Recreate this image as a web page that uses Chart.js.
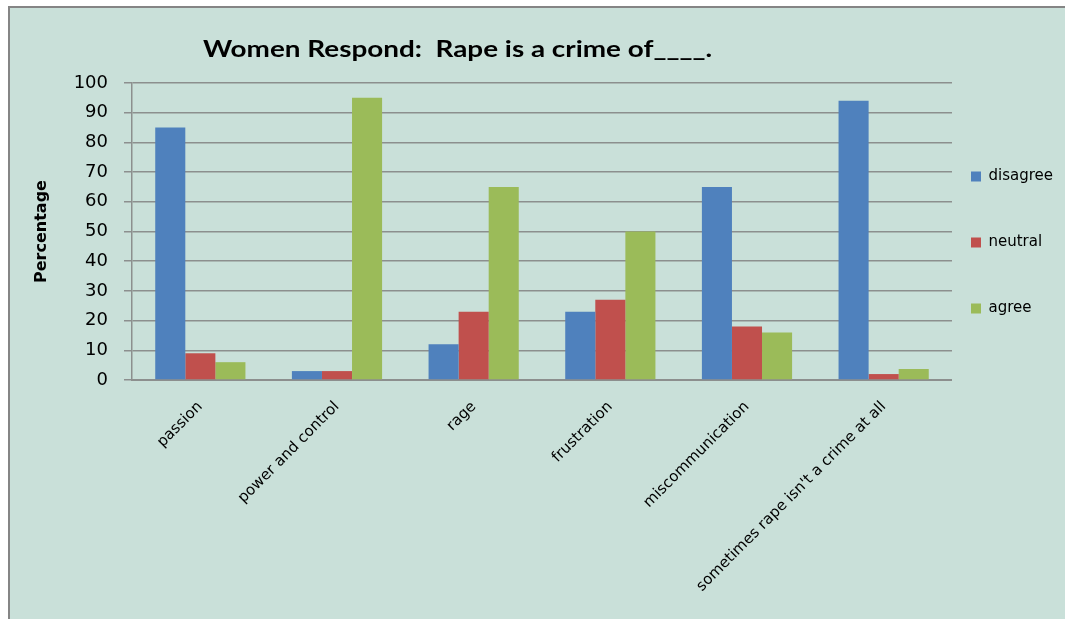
<!DOCTYPE html>
<html>
<head>
<meta charset="utf-8">
<script src="https://cdn.jsdelivr.net/npm/chart.js@4/dist/chart.umd.min.js"></script>
<style>
    body { margin: 0; background: #ffffff; }
    #frame {
        position: absolute;
        left: 8px;
        top: 6px;
        width: 1057px;
        height: 613px;
        background: #c9e0d9;
        border-left: 2px solid #858585;
        border-top: 2px solid #858585;
    }
</style>
</head>
<body>
<div id="frame"><canvas id="rape-canvas" width="1055" height="611"></canvas></div>
<script>
var chartTitle = 'Women Respond:  Rape is a crime of____.';

var categories = ['passion', 'power and control', 'rage', 'frustration', 'miscommunication', "sometimes rape isn't a crime at all"];

var disagreeData = [85, 3, 12, 23, 65, 94];

var neutralData = [9, 3, 23, 27, 18, 2];

var agreeData = [6, 95, 65, 50, 16, 3.7];

var yTicks = [0, 10, 20, 30, 40, 50, 60, 70, 80, 90, 100];

document.addEventListener('DOMContentLoaded', function() {
    var ctx = document.getElementById('rape-canvas').getContext('2d');

    // title sits left of centre in the original, so draw it by hand
    // (the Excel export is a bit stretched sideways, so stretch it too)
    var titlePlugin = {
        id: 'chartTitle',
        afterDraw: function(chart) {
            var c = chart.ctx;
            c.save();
            c.font = 'bold 23px Lato';
            c.fillStyle = '#000000';
            c.textBaseline = 'middle';
            var w = c.measureText(chartTitle).width;
            c.translate(193, 42);
            c.scale(509 / w, 1);
            c.fillText(chartTitle, 0, 0);
            c.restore();
        }
    };

    // push the legend down a bit, like the Excel one
    var legendShift = {
        id: 'legendShift',
        afterLayout: function(chart) {
            chart.legend.top += 27;
            chart.legend.bottom += 27;
        }
    };

    var data = {
        labels: categories,
        datasets: [
            { label: 'disagree', data: disagreeData, backgroundColor: '#4f81bd' },
            { label: 'neutral', data: neutralData, backgroundColor: '#c0504d' },
            { label: 'agree', data: agreeData, backgroundColor: '#9bbb59' }
        ]
    };

    new Chart(ctx, {
        type: 'bar',
        data: data,
        plugins: [titlePlugin, legendShift],
        options: {
            responsive: false,
            animation: false,
            layout: {
                padding: { top: 75, right: 2, bottom: 0, left: 0 }
            },
            datasets: {
                bar: {
                    categoryPercentage: 0.66,
                    barPercentage: 1
                }
            },
            plugins: {
                legend: {
                    position: 'right',
                    fullSize: false,
                    align: 'center',
                    labels: {
                        boxWidth: 10,
                        boxHeight: 10,
                        padding: 19,
                        color: '#000000',
                        font: { family: 'DejaVu Sans', size: 15, lineHeight: '47px' },
                        generateLabels: function(chart) {
                            var items = Chart.defaults.plugins.legend.labels.generateLabels(chart);
                            items.forEach(function(item) {
                                item.text = [item.text];
                            });
                            return items;
                        }
                    }
                },
                tooltip: { enabled: false }
            },
            scales: {
                y: {
                    min: 0,
                    max: 100,
                    afterFit: function(scale) {
                        scale.width = 122;
                    },
                    afterBuildTicks: function(scale) {
                        scale.ticks = yTicks.map(function(v) { return { value: v }; });
                    },
                    ticks: {
                        color: '#000000',
                        padding: 16,
                        font: { family: 'DejaVu Sans', size: 18 }
                    },
                    grid: {
                        color: '#8c8f8e',
                        lineWidth: 1.5,
                        tickLength: 8
                    },
                    border: {
                        color: '#8c8f8e',
                        width: 1.5
                    },
                    title: {
                        display: true,
                        text: 'Percentage',
                        color: '#000000',
                        padding: { top: 22, bottom: 0 },
                        font: { family: 'DejaVu Sans', size: 16, weight: 'bold' }
                    }
                },
                x: {
                    afterFit: function(scale) {
                        scale.height = 239;
                    },
                    ticks: {
                        color: '#000000',
                        maxRotation: 45,
                        minRotation: 45,
                        padding: 10,
                        font: { family: 'DejaVu Sans', size: 15 }
                    },
                    grid: {
                        display: false
                    },
                    border: {
                        color: '#8c8f8e',
                        width: 2
                    }
                }
            }
        }
    });
});
</script>
</body>
</html>
